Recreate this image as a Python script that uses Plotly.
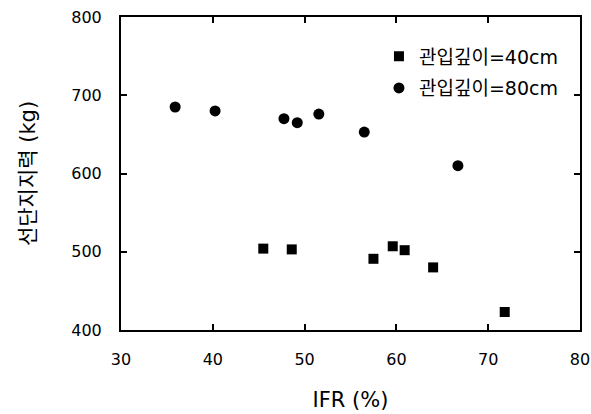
import plotly.graph_objects as go

ifr_40 = [45.5, 48.6, 57.5, 59.6, 60.9, 64.0, 71.8]
load_40 = [504, 503, 491, 507, 502, 480, 423]
ifr_80 = [35.9, 40.25, 47.75, 49.2, 51.55, 56.5, 66.7]
load_80 = [685, 680, 670, 665, 676, 653, 610]

x_ticks = [30, 40, 50, 60, 70, 80]
y_ticks = [400, 500, 600, 700, 800]

FONT = "DejaVu Sans, Noto Sans CJK KR, sans-serif"

fig = go.Figure()
fig.add_trace(go.Scatter(x=ifr_40, y=load_40, mode="markers", name="관입깊이=40cm",
                         legendgroup="a",
                         marker=dict(symbol="square", size=10, color="black")))
fig.add_trace(go.Scatter(x=ifr_80, y=load_80, mode="markers", name="관입깊이=80cm",
                         legendgroup="b",
                         marker=dict(symbol="circle", size=11, color="black")))

axis_common = dict(showline=True, linewidth=2, linecolor="black", mirror="ticks",
                   ticks="inside", ticklen=6, tickwidth=1.5, tickcolor="black",
                   showgrid=False, zeroline=False, automargin=False,
                   tickfont=dict(family=FONT, size=16, color="black"))

fig.update_xaxes(range=[30, 80], tickvals=x_ticks, ticklabelstandoff=14,
                 title=dict(text="IFR (%)", font=dict(family=FONT, size=21, color="black"), standoff=24),
                 **axis_common)
fig.update_yaxes(range=[400, 800], tickvals=y_ticks, ticklabelstandoff=14,
                 title=dict(text="선단지지력 (kg)", font=dict(family=FONT, size=21, color="black"), standoff=30),
                 **axis_common)

fig.update_layout(
    width=591, height=414,
    margin=dict(l=121, r=11, t=17, b=84),
    paper_bgcolor="white", plot_bgcolor="white",
    showlegend=True,
    legend=dict(x=0.562, y=0.935, xanchor="left", yanchor="top",
                font=dict(family=FONT, size=19, color="black"),
                bgcolor="rgba(0,0,0,0)", tracegroupgap=4, traceorder="grouped",
                itemwidth=30),
)

fig.write_html("out.html")
